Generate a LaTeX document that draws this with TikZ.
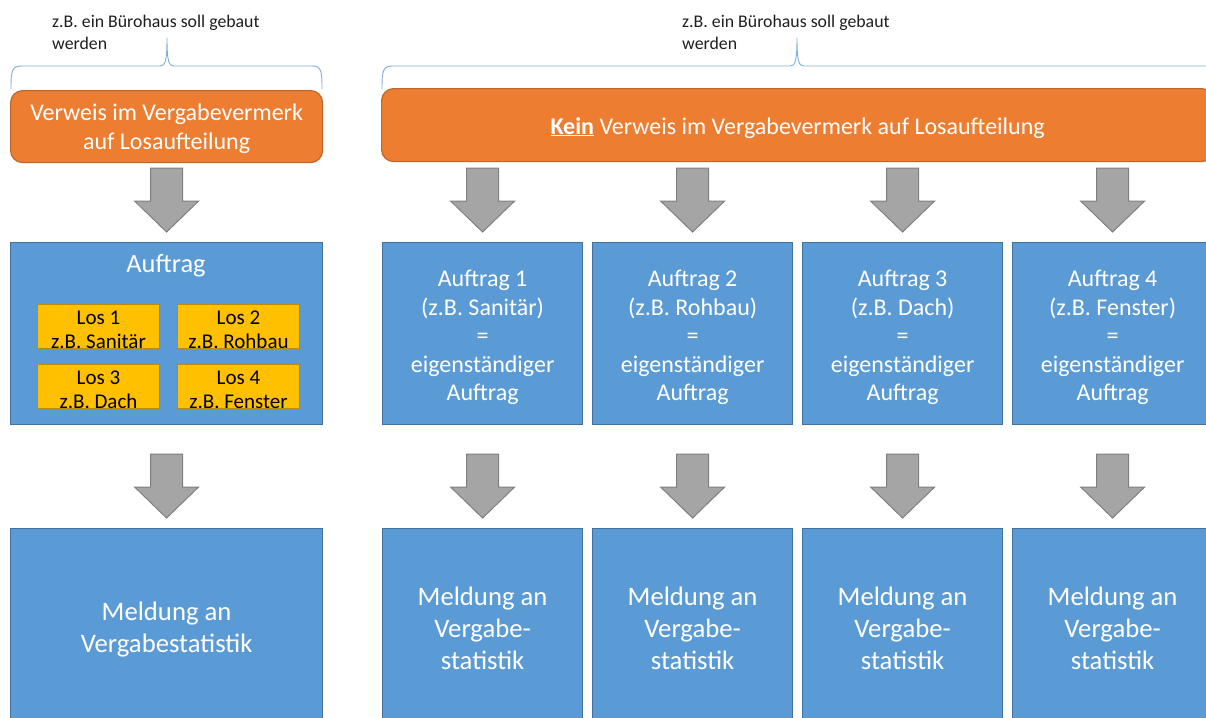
\documentclass[tikz,border=0pt]{standalone}
\usepackage{fontspec}
\setmainfont{Carlito}
\usetikzlibrary{calc}
\definecolor{orangefill}{HTML}{ED7D31}
\definecolor{orangedraw}{HTML}{C0662A}
\definecolor{bluefill}{HTML}{5B9BD5}
\definecolor{bluedraw}{HTML}{41719C}
\definecolor{goldfill}{HTML}{FFC000}
\definecolor{golddraw}{HTML}{BC8C00}
\definecolor{arrowfill}{HTML}{A5A5A5}
\definecolor{arrowdraw}{HTML}{7F7F7F}
\definecolor{bracecol}{HTML}{7FAEDC}
\definecolor{notecol}{HTML}{1E1E1E}

% invisible strut that makes a first line taller, so the text sits lower
\newcommand\tallline[1]{\rule{0pt}{#1}}

% grey block arrow pointing down onto a box (74pt above its top edge)
\newcommand\blkarrow[1]{%
  \draw[blk] ($(#1.north)+(-16,-74)$) -- ++(32,0) -- ++(0,33) -- ++(16,0)
    -- ++(-32,31) -- ++(-32,-31) -- ++(16,0) -- cycle;}

\begin{document}
\begin{tikzpicture}[x=1pt,y=-1pt,
  headbox/.style={draw=orangedraw, fill=orangefill, line width=1.2pt,
    rounded corners=12pt, anchor=north west, inner sep=0pt,
    text=white, align=center, font=\fontsize{24}{29}\selectfont},
  bluebox/.style={draw=bluedraw, fill=bluefill, line width=1.2pt,
    anchor=north west, inner sep=0pt, minimum width=200pt, minimum height=182pt,
    text=white, align=center, font=\fontsize{24}{28.5}\selectfont},
  meldbox/.style={bluebox, minimum height=190pt, font=\fontsize{26.7}{32}\selectfont},
  losbox/.style={draw=golddraw, fill=goldfill, line width=1pt,
    anchor=north west, inner sep=0pt, minimum width=122pt, minimum height=44pt,
    text=black, align=center, font=\fontsize{21}{23.5}\selectfont},
  blk/.style={draw=arrowdraw, fill=arrowfill, line width=1pt, line join=miter},
  brace/.style={draw=bracecol, line width=0.9pt},
  note/.style={anchor=north west, inner sep=0pt, align=left, text=notecol,
    font=\fontsize{17.8}{21.5}\selectfont}]
\useasboundingbox (0,0) rectangle (1206,717);
\clip (0,0) rectangle (1206,717);

% annotations with curly braces
\node[note] (noteL) at (52,15) {z.B. ein Bürohaus soll gebaut\\werden};
\node[note] (noteR) at (682,15) {z.B. ein Bürohaus soll gebaut\\werden};
\draw[brace] (11,89) .. controls (11,70) and (12,66) .. (22,66) -- (160,66)
  .. controls (165,66) and (167,62) .. (167,38)
  .. controls (167,62) and (169,66) .. (174,66) -- (312,66)
  .. controls (321,66) and (322,70) .. (322,89);
\draw[brace] (382,89) .. controls (382,70) and (383,66) .. (393,66) -- (790,66)
  .. controls (795,66) and (797,62) .. (797,38)
  .. controls (797,62) and (799,66) .. (804,66) -- (1230,66);

% header boxes
\node[headbox, minimum width=312pt, minimum height=72pt] (headL) at (10,90)
  {\tallline{21pt}Verweis im Vergabevermerk\\auf Losaufteilung};
\node[headbox, minimum width=832pt, minimum height=73pt] (headR) at (381,88)
  {\tallline{22pt}\underline{\textbf{Kein}} Verweis im Vergabevermerk auf Losaufteilung};

% contract boxes
\node[bluebox, minimum width=312pt] (auf) at (10,242) {};
\node[font=\fontsize{26.4}{30}\selectfont, text=white] (auftitle) at (166,266) {Auftrag};
\node[losbox] (los1) at (37,304) {\tallline{20pt}Los 1\\z.B. Sanitär};
\node[losbox] (los2) at (177,304) {\tallline{20pt}Los 2\\z.B. Rohbau};
\node[losbox] (los3) at (37,364) {\tallline{20pt}Los 3\\z.B. Dach};
\node[losbox] (los4) at (177,364) {\tallline{20pt}Los 4\\z.B. Fenster};

\node[bluebox] (a1) at (382,242) {\tallline{24pt}Auftrag 1\\(z.B. Sanitär)\\=\\eigenständiger\\Auftrag};
\node[bluebox] (a2) at (592,242) {\tallline{24pt}Auftrag 2\\(z.B. Rohbau)\\=\\eigenständiger\\Auftrag};
\node[bluebox] (a3) at (802,242) {\tallline{24pt}Auftrag 3\\(z.B. Dach)\\=\\eigenständiger\\Auftrag};
\node[bluebox] (a4) at (1012,242) {\tallline{24pt}Auftrag 4\\(z.B. Fenster)\\=\\eigenständiger\\Auftrag};

% reporting boxes
\node[meldbox, minimum width=312pt] (mL) at (10,528) {\tallline{30pt}Meldung an\\Vergabestatistik};
\node[meldbox] (m1) at (382,528) {\tallline{27pt}Meldung an\\Vergabe-\\statistik};
\node[meldbox] (m2) at (592,528) {\tallline{27pt}Meldung an\\Vergabe-\\statistik};
\node[meldbox] (m3) at (802,528) {\tallline{27pt}Meldung an\\Vergabe-\\statistik};
\node[meldbox] (m4) at (1012,528) {\tallline{27pt}Meldung an\\Vergabe-\\statistik};

% block arrows
\blkarrow{auf}
\blkarrow{a1}\blkarrow{a2}\blkarrow{a3}\blkarrow{a4}
\blkarrow{mL}
\blkarrow{m1}\blkarrow{m2}\blkarrow{m3}\blkarrow{m4}
\end{tikzpicture}
\end{document}
